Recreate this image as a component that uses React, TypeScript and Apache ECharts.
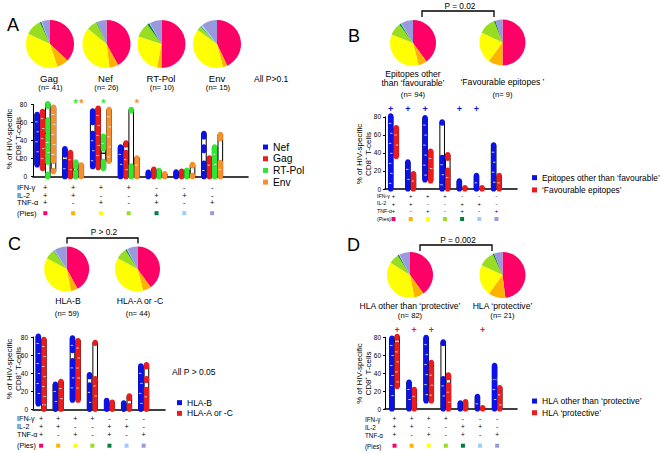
import React, { useEffect, useRef } from "react";
import * as echarts from "echarts";

const FONT = "'Liberation Sans', Arial, sans-serif";

// Pie colours per cytokine combination (order of the 7 categories)
const pieColors = ["#ff0066", "#ffb300", "#ffff00", "#99dd22", "#008040", "#99ccff", "#9999dd"];
const comboNames = ["IFN+IL2+TNF+", "IFN+IL2+", "IFN+TNF+", "IFN+", "IL2+TNF+", "IL2+", "TNF+"];
const ifnRow = ["+", "+", "+", "+", "-", "-", "-"];
const il2Row = ["+", "+", "-", "-", "+", "+", "-"];
const tnfRow = ["+", "-", "+", "-", "+", "-", "+"];
const rowTitles = ["IFN-γ", "IL-2", "TNF-α", "(Pies)"];

// Pie proportions (%)
const pieGag = [37, 8, 37, 11, 1, 0.5, 5.5];
const pieNef = [42, 6, 38, 7, 0.5, 0, 6.5];
const pieRTPol = [50, 3, 27, 10, 1.5, 0.5, 8];
const pieEnv = [43, 3, 39, 3, 0.5, 1, 10.5];
const pieOtherEpi = [40, 6, 35, 9, 1, 0.5, 8.5];
const pieFavEpi = [50, 10, 22, 12, 1, 0, 5];
const pieHlaB = [42, 5, 36, 7, 0.5, 0.5, 9];
const pieHlaAC = [40, 6, 37, 8, 1, 0.5, 7.5];
const pieHlaOther = [40, 7, 37, 7, 1, 0.5, 7.5];
const pieHlaProt = [48, 12, 22, 11, 1, 0, 6];

// Columns: per category, list of [low, high] ranges densely covered by points
// Panel A
const nefA = [[[13, 69]], [[0, 17], [24, 31]], [[11, 48], [60, 73]], [[0, 33]], [[0, 5]], [[0, 5.5]], [[0, 15], [29, 33], [44, 48]]];
const gagA = [[[9, 72.5]], [[0, 27]], [[10, 76]], [[0, 27], [35, 37.5]], [[0, 8.5]], [[0, 6.3]], [[0, 21]]];
const rtpolA = [[[0, 3], [16, 46], [50, 63], [78, 81]], [[0, 5], [11, 16.5]], [[9, 17], [31, 45]], [[0, 12], [73, 74.5]], [[0, 7]], [[0, 7.4]], [[0, 33]]];
const envA = [[[5.5, 7], [17, 77]], [[0, 13]], [[17, 74.5]], [[0, 21]], [[0, 3.3]], [[0, 1.5], [12, 13.6]], [[0, 16], [42, 47]]];
const nefMedA = [null, null, null, null, null, null, null];
const gagMedA = [null, null, null, null, null, null, null];
const rtpolMedA = [47, null, 26, null, null, null, null];
const envMedA = [42, null, null, null, null, null, null];
const sigRtpolA = [1, 2];
const sigEnvA = [1, 3];

// Panel B
const otherEpiB = [[[0, 81]], [[0, 30]], [[10, 79]], [[0, 35], [73, 74.5]], [[0, 9]], [[0, 15]], [[0, 49]]];
const favEpiB = [[[36, 68]], [[0, 17]], [[9, 42]], [[0, 21], [34, 38]], [[0, 1.5]], [[0, 1.5]], [[0, 15]]];
const sigOtherB = [0, 1, 2, 4, 5];

// Panel C
const hlaBC = [[[6, 81]], [[0, 28]], [[10, 54], [65, 79]], [[0, 27], [36, 38.5]], [[0, 10]], [[0, 7]], [[0, 48]]];
const hlaACC = [[[0, 2], [8, 77.5]], [[0, 31]], [[10, 76]], [[0, 34], [73, 74]], [[0, 8]], [[0, 4], [12, 15]], [[0, 22], [32, 34], [47, 49.5]]];

// Panel D
const hlaOtherD = [[[0, 79]], [[0, 30]], [[9, 80]], [[0, 34], [73, 75]], [[0, 7]], [[0, 14]], [[0, 30], [36, 48.6]]];
const hlaProtD = [[[25, 72], [79, 81]], [[0, 22]], [[9, 46], [50, 52]], [[0, 27], [35, 38]], [[0, 3], [7, 8.2]], [[0, 1.5]], [[0, 24]]];
const sigProtD = [0, 1, 2, 5];

const BLUE = "#0a12e8";
const RED = "#ec1c1c";
const GREEN = "#2fe82f";
const ORANGE = "#f7902c";

function boxSeries(name: string, color: string, gi: number, fills: number[][][], medians: (number | null)[] | null, offset: number) {
  return {
    type: "custom",
    name,
    xAxisIndex: gi,
    yAxisIndex: gi,
    clip: false,
    silent: true,
    itemStyle: { color },
    data: fills.map((segs, i) => {
      const lo = Math.min(...segs.map((s) => s[0]));
      const hi = Math.max(...segs.map((s) => s[1]));
      const med = medians && medians[i] != null ? medians[i] : -1;
      return [i, lo, hi, med];
    }),
    renderItem: (params: any, api: any) => {
      const i = api.value(0);
      const pLo = api.coord([i, api.value(1)]);
      const pHi = api.coord([i, api.value(2)]);
      const x = pLo[0] + offset;
      const bw = 4.6;
      const fw = 5.2;
      const children: any[] = [
        {
          type: "rect",
          shape: { x: x - bw / 2, y: pHi[1], width: bw, height: Math.max(pLo[1] - pHi[1], 0.5) },
          style: { fill: "#fff", stroke: "#000", lineWidth: 1 },
        },
      ];
      const med = api.value(3);
      if (med >= 0) {
        const pm = api.coord([i, med]);
        children.push({
          type: "line",
          shape: { x1: x - bw / 2, y1: pm[1], x2: x + bw / 2, y2: pm[1] },
          style: { stroke: "#000", lineWidth: 1.3 },
        });
      }
      fills[params.dataIndex].forEach((s) => {
        const a = api.coord([i, s[0]])[1];
        const b = api.coord([i, s[1]])[1];
        children.push({
          type: "rect",
          shape: { x: x - fw / 2, y: b - fw / 2, width: fw, height: a - b + fw, r: fw / 2 },
          style: { fill: color },
        });
        // white gaps between stacked dots
        const len = a - b;
        if (len > 12) {
          for (let k = 1, y = b + 7; y < a - 4; k++, y += 10) {
            children.push({
              type: "rect",
              shape: { x: x - 1.2 + (k % 2 ? -0.6 : 0.6), y, width: 2.4, height: 0.8 },
              style: { fill: "#fff" },
            });
          }
        }
      });
      return { type: "group", children };
    },
  };
}

function markSeries(gi: number, cats: number[], yVal: number, offset: number, text: string, color: string, size: number, dy: number) {
  return {
    type: "custom",
    xAxisIndex: gi,
    yAxisIndex: gi,
    clip: false,
    silent: true,
    data: cats.map((c) => [c, yVal]),
    renderItem: (params: any, api: any) => {
      const p = api.coord([api.value(0), api.value(1)]);
      return {
        type: "text",
        x: p[0] + offset,
        y: p[1] + dy,
        style: { text, fill: color, fontSize: size, fontFamily: FONT, fontWeight: "bold", align: "center", verticalAlign: "middle" },
      };
    },
  };
}

function rowSeries(gi: number, offs: number[], size: number) {
  return {
    type: "custom",
    xAxisIndex: gi,
    yAxisIndex: gi,
    clip: false,
    silent: true,
    data: ifnRow.map((_, i) => [i, 0]),
    renderItem: (params: any, api: any) => {
      const i = params.dataIndex;
      const p = api.coord([api.value(0), 0]);
      const rows = [ifnRow[i], il2Row[i], tnfRow[i]];
      const children: any[] = rows.map((s, k) => ({
        type: "text",
        x: p[0],
        y: p[1] + offs[k],
        style: { text: s, fill: "#000", fontSize: size, fontFamily: FONT, align: "center", verticalAlign: "middle" },
      }));
      children.push({
        type: "rect",
        shape: { x: p[0] - 2, y: p[1] + offs[3] - 2, width: 4, height: 4 },
        style: { fill: pieColors[i] },
      });
      return { type: "group", children };
    },
  };
}

function pieSeries(values: number[], cx: number, cy: number, r: number) {
  return {
    type: "pie",
    silent: true,
    center: [cx, cy],
    radius: r,
    startAngle: 90,
    clockwise: true,
    label: { show: false },
    labelLine: { show: false },
    itemStyle: { borderWidth: 0 },
    data: values.map((v, k) => ({ value: v, name: comboNames[k], itemStyle: { color: pieColors[k] } })),
  };
}

function txt(x: number, y: number, text: string, size: number, align = "center", extra: any = {}) {
  return {
    type: "text",
    x,
    y,
    silent: true,
    style: { text, fontSize: size, fontFamily: FONT, fill: "#000", align, verticalAlign: "middle", ...extra },
  };
}

function bracket(x1: number, x2: number, yTop: number, yBot: number) {
  return {
    type: "polyline",
    silent: true,
    shape: { points: [[x1, yBot], [x1, yTop], [x2, yTop], [x2, yBot]] },
    style: { stroke: "#000", lineWidth: 1.3, fill: null },
  };
}

const grids = [
  { left: 33, top: 104.5, width: 215, height: 72.2, xMin: -0.442, xMax: 7.29, labMargin: 6 },
  { left: 385, top: 116.8, width: 132, height: 72.2, xMin: -0.496, xMax: 7.2, labMargin: 4 },
  { left: 33, top: 337, width: 132, height: 72.3, xMin: -0.474, xMax: 7.25, labMargin: 5 },
  { left: 385, top: 337.3, width: 132, height: 71.7, xMin: -0.556, xMax: 7.16, labMargin: 4 },
];

function buildOption() {
  const series: any[] = [
    boxSeries("Nef", BLUE, 0, nefA, nefMedA, -8.2),
    boxSeries("Gag", RED, 0, gagA, gagMedA, -2.7),
    boxSeries("RT-Pol", GREEN, 0, rtpolA, rtpolMedA, 2.5),
    boxSeries("Env", ORANGE, 0, envA, envMedA, 8.2),
    markSeries(0, sigRtpolA, 84, 2.5, "*", GREEN, 11, 2),
    markSeries(0, sigEnvA, 84, 8.2, "*", ORANGE, 11, 2),
    rowSeries(0, [10.5, 18.3, 26, 36.5], 7.5),

    boxSeries("Epitopes other than ‘favourable’", BLUE, 1, otherEpiB, null, -2.8),
    boxSeries("‘Favourable epitopes’", RED, 1, favEpiB, null, 2.8),
    markSeries(1, sigOtherB, 88.5, -2.8, "+", BLUE, 9, 0),
    rowSeries(1, [6.9, 14.5, 22, 30], 5.8),

    boxSeries("HLA-B", BLUE, 2, hlaBC, null, -2.8),
    boxSeries("HLA-A or -C", RED, 2, hlaACC, null, 2.8),
    rowSeries(2, [9, 17.4, 25, 36.4], 7.2),

    boxSeries("HLA other than ‘protective’", BLUE, 3, hlaOtherD, null, -2.6),
    boxSeries("HLA ‘protective’", RED, 3, hlaProtD, null, 2.6),
    markSeries(3, sigProtD, 88, 2.6, "+", RED, 9, 0),
    rowSeries(3, [9.3, 17.3, 25.3, 36.7], 6.5),

    pieSeries(pieGag, 50, 44, 24),
    pieSeries(pieNef, 106.5, 44, 24),
    pieSeries(pieRTPol, 161.5, 44, 24),
    pieSeries(pieEnv, 217, 44, 24),
    pieSeries(pieOtherEpi, 413, 43, 23),
    pieSeries(pieFavEpi, 502.5, 42.5, 23),
    pieSeries(pieHlaB, 66.7, 269, 22.5),
    pieSeries(pieHlaAC, 137.5, 269, 22.5),
    pieSeries(pieHlaOther, 410, 275, 23),
    pieSeries(pieHlaProt, 502.5, 275, 23),
  ];

  const xAxis = grids.map((g, gi) => ({
    gridIndex: gi,
    type: "value",
    min: g.xMin,
    max: g.xMax,
    axisLine: { show: true, onZero: false, lineStyle: { color: "#000", width: 1.6 } },
    axisTick: { show: false },
    axisLabel: { show: false },
    splitLine: { show: false },
  }));
  const yAxis = grids.map((g, gi) => ({
    gridIndex: gi,
    type: "value",
    min: 0,
    max: 80,
    interval: 20,
    axisLine: { show: true, onZero: false, lineStyle: { color: "#000", width: 1 } },
    axisTick: { show: true, length: 2, lineStyle: { color: "#000" } },
    axisLabel: { fontSize: 6.5, color: "#000", margin: g.labMargin, fontFamily: FONT },
    splitLine: { show: false },
  }));

  const legendBase = { orient: "vertical", icon: "rect", itemWidth: 5, itemHeight: 5, itemGap: 0, selectedMode: false };
  const legend = [
    { ...legendBase, data: ["Nef", "Gag", "RT-Pol", "Env"], left: 258, top: 136.2, textStyle: { fontSize: 10.3, lineHeight: 11.7, color: "#000", fontFamily: FONT } },
    { ...legendBase, data: ["Epitopes other than ‘favourable’", "‘Favourable epitopes’"], left: 527, top: 166.5, textStyle: { fontSize: 8.4, lineHeight: 12.3, color: "#000", fontFamily: FONT } },
    { ...legendBase, data: ["HLA-B", "HLA-A or -C"], left: 172, top: 392.3, textStyle: { fontSize: 8.5, lineHeight: 10.7, color: "#000", fontFamily: FONT } },
    { ...legendBase, data: ["HLA other than ‘protective’", "HLA ‘protective’"], left: 527, top: 390.2, textStyle: { fontSize: 8.5, lineHeight: 11.7, color: "#000", fontFamily: FONT } },
  ];

  const yTitle = "% of HIV-specific\nCD8⁺ T-cells";
  const rotTitle = (x: number, y: number) => ({
    type: "text",
    x,
    y,
    rotation: Math.PI / 2,
    silent: true,
    style: { text: yTitle, fontSize: 8, lineHeight: 9.5, fontFamily: FONT, fill: "#000", align: "center", verticalAlign: "middle" },
  });

  const rowTitleEls = (x: number, ys: number[], size: number) => rowTitles.map((t, k) => txt(x, ys[k], t, size, "left"));

  const graphic: any[] = [
    txt(7, 25, "A", 18, "left"),
    txt(348, 35.5, "B", 18, "left"),
    txt(8, 244, "C", 18, "left"),
    txt(347, 244.5, "D", 18, "left"),

    txt(49, 78, "Gag", 9.5),
    txt(50.5, 87.5, "(n= 41)", 7.6),
    txt(105.5, 78, "Nef", 9.5),
    txt(106.5, 87.5, "(n= 26)", 7.6),
    txt(161, 78, "RT-Pol", 9.5),
    txt(162, 87.5, "(n= 10)", 7.6),
    txt(217, 78, "Env", 9.5),
    txt(218, 87.5, "(n= 15)", 7.6),
    txt(254, 79, "All P>0.1", 8.5, "left"),

    txt(413, 73.5, "Epitopes other", 8.6),
    txt(413, 83, "than ‘favourable’", 8.6),
    txt(413, 94, "(n= 94)", 7.6),
    txt(502.5, 82, "‘Favourable epitopes ’", 8.6),
    txt(502.5, 94, "(n= 9)", 7.6),
    bracket(422, 494, 11, 17),
    txt(460, 5.5, "P = 0.02", 8.3),

    txt(68, 301, "HLA-B", 8.6),
    txt(67, 313, "(n= 59)", 7.6),
    txt(140, 301, "HLA-A or -C", 8.6),
    txt(138, 313, "(n= 44)", 7.6),
    bracket(67, 138, 238, 243.5),
    txt(104, 232, "P > 0.2", 8.3),
    txt(172, 372, "All P > 0.05", 8.5, "left"),

    txt(410, 306, "HLA other than ‘protective’", 8.6),
    txt(410, 315, "(n= 82)", 7.6),
    txt(502.5, 306, "HLA ‘protective’", 8.6),
    txt(502.5, 315, "(n= 21)", 7.6),
    bracket(420, 492, 245, 251),
    txt(458, 240, "P = 0.002", 8.3),

    rotTitle(14, 139),
    rotTitle(364, 154),
    rotTitle(14, 369),
    rotTitle(364, 373.5),

    ...rowTitleEls(17, [187.3, 195, 202.7, 213.3], 7.5),
    ...rowTitleEls(377, [195.7, 203.3, 211, 219], 5.3),
    ...rowTitleEls(17, [418.3, 426.7, 434.3, 445.7], 7.2),
    ...rowTitleEls(365, [419.3, 427.3, 435.3, 446.7], 6.3),
  ];

  return {
    animation: false,
    backgroundColor: "#fff",
    textStyle: { fontFamily: FONT },
    grid: grids.map((g) => ({ left: g.left, top: g.top, width: g.width, height: g.height, containLabel: false })),
    xAxis,
    yAxis,
    legend,
    series,
    graphic,
  };
}

export default function App() {
  const ref = useRef<HTMLDivElement>(null);
  useEffect(() => {
    if (!ref.current) return;
    const chart = echarts.init(ref.current, undefined, { renderer: "svg" });
    chart.setOption(buildOption() as any);
    return () => chart.dispose();
  }, []);
  return <div ref={ref} style={{ position: "fixed", left: 0, top: 0, width: 661, height: 453, background: "#fff" }} />;
}
